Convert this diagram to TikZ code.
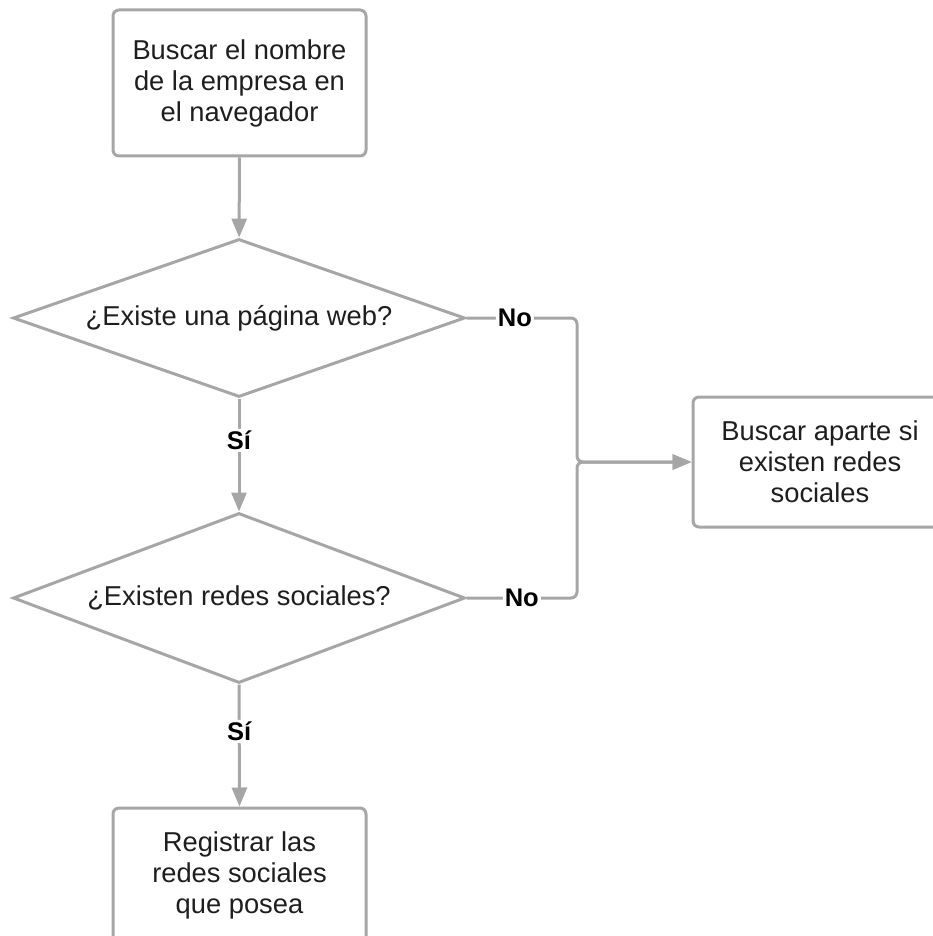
\documentclass[tikz,border=0pt]{standalone}
\usepackage{fontspec}
\setmainfont{Liberation Sans}
\usetikzlibrary{shapes.geometric,arrows.meta}
\definecolor{linegray}{RGB}{166,166,166}
\definecolor{txt}{RGB}{30,30,30}
\tikzset{
  boxtext/.style={inner sep=0pt, align=center, text=txt, font=\fontsize{27.3}{31}\selectfont},
  stepbox/.style={draw=linegray, line width=3pt, rounded corners=6pt, fill=white,
    minimum width=253pt, boxtext},
  decision/.style={diamond, draw=linegray, line width=3pt, fill=white, inner sep=0pt,
    minimum width=452pt, text=txt, font=\fontsize{27.3}{31}\selectfont},
  conn/.style={draw=linegray, line width=3pt, rounded corners=6pt,
    -{Triangle[length=19pt,width=15pt]}},
  lab/.style={fill=white, inner sep=2pt, text=black, font=\bfseries\fontsize{25.5}{30}\selectfont}
}
\begin{document}
\begin{tikzpicture}[x=1pt,y=-1pt]
\useasboundingbox (0,0) rectangle (933,936);
\node[stepbox, minimum height=146pt] (b1) at (239.5,83)
  {Buscar el nombre\\de la empresa en\\el navegador};
\node[decision, minimum height=158pt, aspect=2.86] (d1) at (239,318) {¿Existe una página web?};
\node[decision, minimum height=170pt, aspect=2.66] (d2) at (239,598) {¿Existen redes sociales?};
\node[stepbox, minimum width=254pt, minimum height=130pt] (b3) at (820,462)
  {Buscar aparte si\\existen redes\\sociales};
\node[stepbox, minimum height=150pt,
  label={[boxtext, yshift=8pt]center:Registrar las\\redes sociales\\que posea}] (b4) at (239.5,883) {};
\coordinate (j1) at (577,318);
\coordinate (j2) at (577,598);
\draw[conn] (b1) -- (d1);
\draw[conn] (d1.south) -- node[pos=0.37, lab] {Sí} (d2.north);
\draw[conn] (d2.south) -- node[pos=0.384, lab] {Sí} (b4.north);
\draw[conn] (d1.east) -- node[pos=0.4375, lab] {No} (j1) |- (b3.west);
\draw[conn] (d2.east) -- node[pos=0.5, lab] {No} (j2) |- (b3.west);
\end{tikzpicture}
\end{document}
